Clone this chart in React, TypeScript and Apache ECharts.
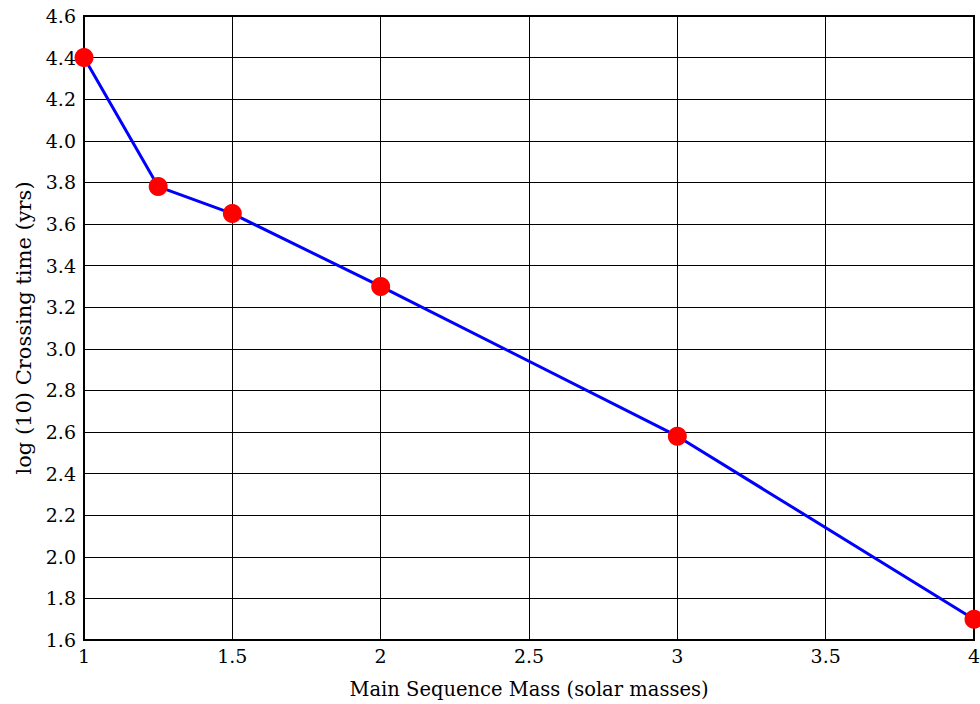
import React, { useEffect, useRef } from "react";
import * as echarts from "echarts";

const massValues = [1, 1.25, 1.5, 2, 3, 4];
const logCrossingTime = [4.4, 3.78, 3.65, 3.3, 2.58, 1.7];
const xAxisTitle = "Main Sequence Mass (solar masses)";
const yAxisTitle = "log (10) Crossing time (yrs)";

const FONT = "DejaVu Serif";

export default function App() {
  const ref = useRef<HTMLDivElement>(null);
  useEffect(() => {
    if (!ref.current) return;
    const chart = echarts.init(ref.current, undefined, { renderer: "svg" });
    chart.setOption({
      animation: false,
      backgroundColor: "#ffffff",
      textStyle: { fontFamily: FONT },
      grid: {
        left: 84,
        right: 6,
        top: 16,
        bottom: 64,
        outerBoundsMode: "none",
        containLabel: false,
        show: true,
        borderColor: "#000",
        borderWidth: 2,
        backgroundColor: "transparent",
      },
      xAxis: {
        type: "value",
        min: 1,
        max: 4,
        interval: 0.5,
        name: xAxisTitle,
        nameLocation: "middle",
        nameGap: 39,
        nameTextStyle: { fontFamily: FONT, fontSize: 19.5, color: "#000" },
        axisLine: { show: false },
        axisTick: { show: false },
        axisLabel: { fontFamily: FONT, fontSize: 19, color: "#000", margin: 6 },
        splitLine: { show: true, lineStyle: { color: "#000", width: 1 } },
      },
      yAxis: {
        type: "value",
        min: 1.6,
        max: 4.6,
        interval: 0.2,
        name: yAxisTitle,
        nameLocation: "middle",
        nameGap: 50,
        nameTextStyle: { fontFamily: FONT, fontSize: 21, color: "#000" },
        axisLine: { show: false },
        axisTick: { show: false },
        axisLabel: {
          fontFamily: FONT,
          fontSize: 19,
          color: "#000",
          margin: 8,
          formatter: (v: number) => v.toFixed(1),
        },
        splitLine: { show: true, lineStyle: { color: "#000", width: 1 } },
      },
      series: [
        {
          type: "line",
          data: massValues.map((m, i) => [m, logCrossingTime[i]]),
          clip: false,
          symbol: "circle",
          symbolSize: 19,
          lineStyle: { color: "#0000ff", width: 3 },
          itemStyle: { color: "#ff0000", borderWidth: 0 },
          z: 3,
        },
      ],
    });
    return () => chart.dispose();
  }, []);
  return (
    <div
      ref={ref}
      style={{ position: "fixed", left: 0, top: 0, width: 980, height: 704 }}
    />
  );
}
